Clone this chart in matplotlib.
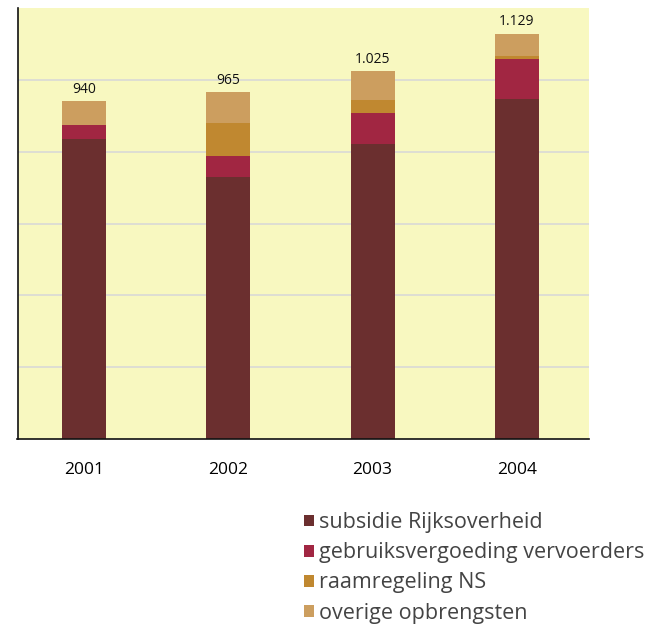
import matplotlib.pyplot as plt
from matplotlib.patches import Patch
import numpy as np

plt.rcParams['font.family'] = ['Open Sans', 'DejaVu Sans']

years = ['2001', '2002', '2003', '2004']
subsidie = [835, 729, 821, 946]
gebruik = [39, 58, 86, 111]
raamregeling = [0, 94, 36, 8]
overig = [66, 84, 82, 64]
totals = [940, 965, 1025, 1129]
total_labels = ['940', '965', '1.025', '1.129']

series = [
    ('subsidie Rijksoverheid', subsidie, '#6b2f2f'),
    ('gebruiksvergoeding vervoerders', gebruik, '#a12642'),
    ('raamregeling NS', raamregeling, '#c08830'),
    ('overige opbrengsten', overig, '#cc9e5f'),
]

fig = plt.figure(figsize=(6.62, 6.29), dpi=100)
ax = fig.add_axes([17.5 / 662, 1 - 439 / 629, (589 - 17.5) / 662, (439 - 8) / 629])
ax.set_facecolor('#f8f8c0')

x = np.arange(len(years))
bottom = np.zeros(len(years))
for name, vals, col in series:
    ax.bar(x, vals, width=0.305, bottom=bottom, color=col, linewidth=0, zorder=2)
    bottom += np.array(vals)

for xi, t, lab in zip(x, totals, total_labels):
    ax.text(xi, t + 12, lab, ha='center', va='bottom', fontsize=10, color='#111111')

ax.set_xlim(-0.46, 3.5)
ax.set_ylim(0, 1200)
ax.set_yticks([200, 400, 600, 800, 1000])
ax.yaxis.grid(True, color='#d9d9d6', linewidth=1.2, zorder=1)
ax.tick_params(axis='y', left=False, labelleft=False)
ax.tick_params(axis='x', bottom=False, labelsize=12.5, pad=13)
ax.set_xticks(x)
ax.set_xticklabels(years)
for s in ['top', 'right']:
    ax.spines[s].set_visible(False)
ax.spines['left'].set_color('#111111')
ax.spines['bottom'].set_color('#111111')
ax.spines['left'].set_linewidth(1.2)
ax.spines['bottom'].set_linewidth(1.2)

handles = [Patch(facecolor=col, edgecolor='none', label=name) for name, vals, col in series]
fig.legend(handles=handles, loc='upper left', bbox_to_anchor=(285 / 662, 1 - 493 / 629),
           frameon=False, fontsize=15.5, handlelength=0.45, handleheight=0.45,
           handletextpad=0.25, labelspacing=0.42, labelcolor='#444444')

fig.savefig('out.png', dpi=100, facecolor='white')
